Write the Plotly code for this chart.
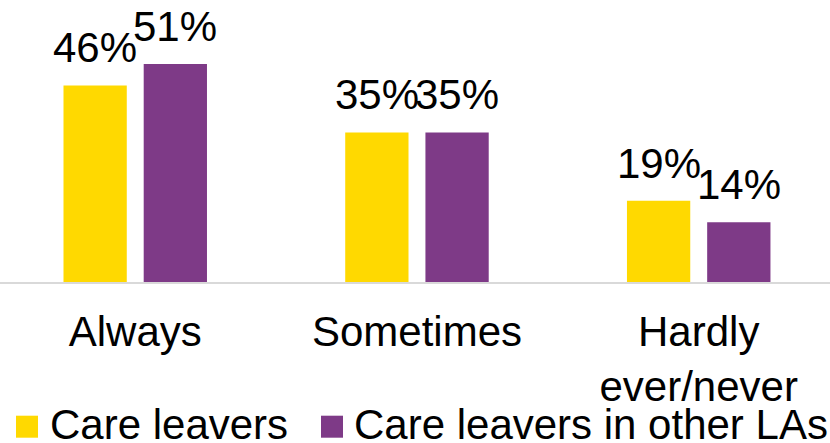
import plotly.graph_objects as go

# Survey answers and shares (%) for the two groups
categories = ["Always", "Sometimes", "Hardly<br>ever/never"]
series_names = ["Care leavers", "Care leavers in other LAs"]
care_leavers = [46, 35, 19]
other_las = [51, 35, 14]

colors = ["#FFD900", "#7E3A87"]
FONT = "Liberation Sans, Arial, sans-serif"
FS = 42
W, H = 830, 443
MARGIN_B = 161
PLOT_H = H - MARGIN_B

fig = go.Figure()
for name, vals, col in zip(series_names, [care_leavers, other_las], colors):
    fig.add_trace(go.Bar(
        x=categories, y=vals, name=name, marker=dict(color=col, line=dict(width=0)),
        showlegend=False, hoverinfo="x+y+name",
    ))

# Value labels above each bar
slot_px = 80.2
for i, vals in enumerate([care_leavers, other_las]):
    shift = (-0.5 if i == 0 else 0.5) * slot_px
    for cat, v in zip(categories, vals):
        fig.add_annotation(
            x=cat, y=v, xref="x", yref="y", text=f"{v}%", showarrow=False,
            xanchor="center", yanchor="bottom", xshift=shift, yshift=12,
            font=dict(family=FONT, size=FS, color="#000000"),
        )

# Legend drawn as squares plus text below the axis labels
def py(px):
    return (PLOT_H - px) / PLOT_H

legend_items = [(16, 48), (321, 352)]
for (sq_x, tx_x), name, col in zip(legend_items, series_names, colors):
    fig.add_shape(
        type="rect", xref="paper", yref="paper",
        x0=sq_x / W, x1=(sq_x + 22) / W, y0=py(437.7), y1=py(415.7),
        fillcolor=col, line=dict(width=0),
    )
    fig.add_annotation(
        x=tx_x / W, y=py(424), xref="paper", yref="paper", text=name,
        showarrow=False, xanchor="left", yanchor="middle",
        font=dict(family=FONT, size=FS, color="#000000"),
    )

fig.update_layout(
    width=W, height=H,
    margin=dict(l=0, r=0, t=0, b=MARGIN_B),
    barmode="group", bargap=0.4306, bargroupgap=0.211,
    paper_bgcolor="white", plot_bgcolor="white",
    font=dict(family=FONT, size=FS, color="#000000"),
    xaxis=dict(
        range=[-0.480, 2.466], showline=True, linecolor="#D9D9D9", linewidth=1.5,
        ticks="", showgrid=False, zeroline=False, ticklabelstandoff=12,
        tickfont=dict(family=FONT, size=FS, color="#000000"),
    ),
    yaxis=dict(range=[0, 66], visible=False, showgrid=False, zeroline=False),
    showlegend=False,
)

fig.write_html("out.html")
